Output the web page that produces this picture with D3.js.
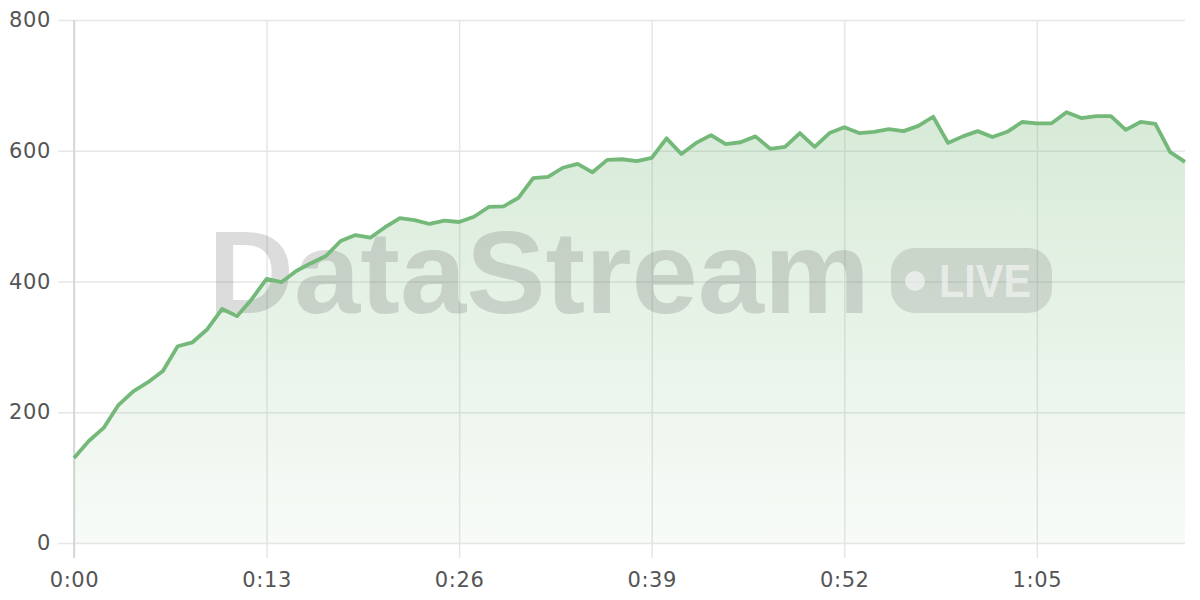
<!DOCTYPE html>
<html><head><meta charset="utf-8">
<script src="https://cdn.jsdelivr.net/npm/d3@7"></script>
<style>html,body{margin:0;padding:0;background:#fff;}svg{display:block;}</style>
</head><body>
<svg id="chart" width="1200" height="600"></svg>
<script>
const seconds = d3.range(0, 76);
const values = [130,156,176,211,232,246,263,301,307,327,358,347,373,404,399,416,428,439,462,471,
467,483,497,494,488,493,491,499,514,515,528,558,560,574,580,567,586,587,584,589,
619,595,612,624,610,613,622,603,606,627,606,627,636,627,629,633,630,638,652,612,
622,630,621,629,644,642,642,659,650,653,653,632,644,641,598,583];
const xTicks = [0,13,26,39,52,65];
const yTicks = [0,200,400,600,800];
const watermarkText = "DataStream";
const badgeText = "LIVE";

const data = seconds.map((s,i)=>({s, v: values[i]}));
const svg = d3.select("#chart");
const x = d3.scaleLinear().domain([0,75]).range([74,1185]);
const y = d3.scaleLinear().domain([0,800]).range([543,20]);
const fmt = s => Math.floor(s/60) + ":" + String(s%60).padStart(2,"0");

const defs = svg.append("defs");
const grad = defs.append("linearGradient").attr("id","ag").attr("gradientUnits","userSpaceOnUse")
  .attr("x1",0).attr("x2",0).attr("y1",y(660)).attr("y2",y(0));
grad.append("stop").attr("offset",0).attr("stop-color","#6fb572").attr("stop-opacity",0.28);
grad.append("stop").attr("offset",1).attr("stop-color","#6fb572").attr("stop-opacity",0.05);

const labelStyle = sel => sel.attr("fill","#555555")
  .style("font-family","DejaVu Sans, sans-serif").style("font-size","21px").style("letter-spacing","0.6px");

// horizontal grid + y labels
const yAxis = d3.axisLeft(y).tickValues(yTicks).tickSize(-(1185-58)).tickPadding(7);
const gy = svg.append("g").attr("transform","translate(58,0)").call(yAxis);
gy.select(".domain").remove();
gy.selectAll(".tick line").attr("stroke","#e6e6e6").attr("stroke-width",1.5).attr("x1",0).attr("x2",1185-58);
gy.selectAll(".tick text").attr("x",-7).call(labelStyle);

// vertical grid + x labels
const xAxis = d3.axisBottom(x).tickValues(xTicks).tickFormat(fmt).tickSize(0).tickPadding(0);
const gx = svg.append("g").attr("transform","translate(0,558)").call(xAxis);
gx.select(".domain").remove();
gx.selectAll(".tick line").attr("y1",0).attr("y2",-(558-20)).attr("stroke","#e6e6e6").attr("stroke-width",1.5);
gx.selectAll(".tick text").attr("y",29).attr("dy",0).call(labelStyle);

// y axis line
svg.append("line").attr("x1",x(0)).attr("x2",x(0)).attr("y1",y(800)).attr("y2",558)
  .attr("stroke","#d0d0d0").attr("stroke-width",1.5);

// area
const area = d3.area().x(d=>x(d.s)).y0(y(0)).y1(d=>y(d.v));
svg.append("path").datum(data).attr("d",area).attr("fill","url(#ag)");

// watermark
const wm = svg.append("g").attr("pointer-events","none");
wm.append("text").attr("x",208).attr("y",313).text(watermarkText)
  .attr("textLength",662).attr("lengthAdjust","spacingAndGlyphs")
  .style("font-family","Liberation Sans, Arial, sans-serif").style("font-weight","bold").style("font-size","116px")
  .attr("fill","#6e6e6e").attr("fill-opacity",0.24);
const badge = wm.append("g");
badge.append("rect").attr("x",891).attr("y",248).attr("width",161).attr("height",65).attr("rx",24)
  .attr("fill","#6e6e6e").attr("fill-opacity",0.2);
badge.append("circle").attr("cx",915).attr("cy",281).attr("r",10).attr("fill","#ffffff").attr("fill-opacity",0.55);
badge.append("text").attr("x",939).attr("y",297).text(badgeText)
  .attr("textLength",92).attr("lengthAdjust","spacingAndGlyphs")
  .style("font-family","Liberation Sans, Arial, sans-serif").style("font-weight","bold").style("font-size","47px")
  .attr("fill","#ffffff").attr("fill-opacity",0.55);

// line
const line = d3.line().x(d=>x(d.s)).y(d=>y(d.v));
svg.append("path").datum(data).attr("d",line).attr("fill","none")
  .attr("stroke","#74b979").attr("stroke-width",3.8).attr("stroke-linejoin","round");
</script>
</body></html>
